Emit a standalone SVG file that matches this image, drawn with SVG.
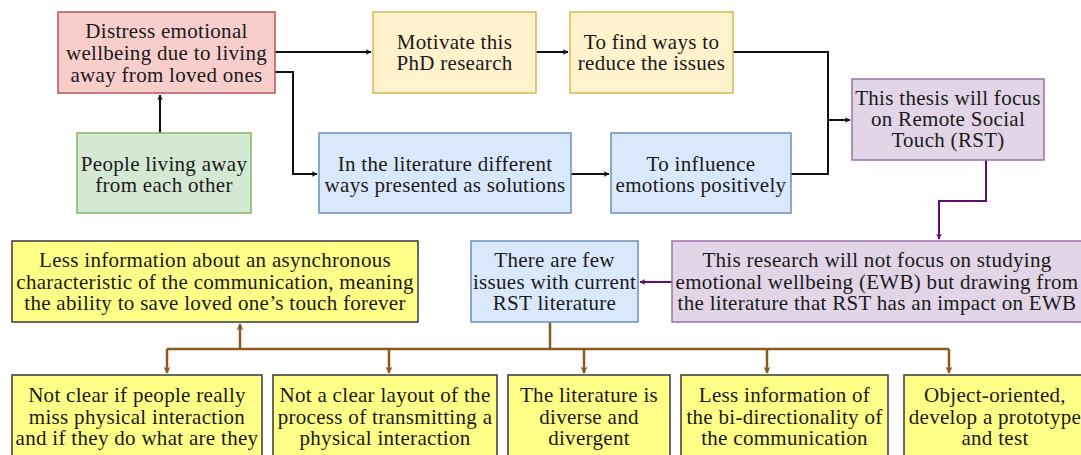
<svg xmlns="http://www.w3.org/2000/svg" width="1081" height="455" viewBox="0 0 1081 455" font-family="'Liberation Serif', 'Times New Roman', serif">
  <style>
    text { font-family: 'Liberation Serif', 'Times New Roman', Times, serif; font-size: 21px; letter-spacing: 0.3px; fill: #1a1a1a; text-anchor: middle; }
    .box { stroke-width: 1.5; }
    .red { fill: #f8cecc; stroke: #b85450; }
    .yel { fill: #fff2cc; stroke: #d6b656; }
    .grn { fill: #d5e8d4; stroke: #82b366; }
    .blu { fill: #dae8fc; stroke: #6c8ebf; }
    .pur { fill: #e1d5e7; stroke: #9673a6; }
    .note { fill: #ffff88; stroke: #36393d; }
    .c-blk { fill: none; stroke: #111; stroke-width: 2; }
    .c-pur { fill: none; stroke: #5e0f6e; stroke-width: 2; }
    .c-brn { fill: none; stroke: #8b5a1e; stroke-width: 2.5; }
  </style>
  <defs>
    <marker id="ah-blk" viewBox="0 0 10 10" refX="9" refY="5" markerWidth="6" markerHeight="6" markerUnits="userSpaceOnUse" orient="auto">
      <path d="M0,0 L10,5 L0,10 L3,5 Z" fill="#111"/>
    </marker>
    <marker id="ah-pur" viewBox="0 0 10 10" refX="9" refY="5" markerWidth="6" markerHeight="6" markerUnits="userSpaceOnUse" orient="auto">
      <path d="M0,0 L10,5 L0,10 L3,5 Z" fill="#5e0f6e"/>
    </marker>
    <marker id="ah-brn" viewBox="0 0 10 10" refX="9" refY="5" markerWidth="7" markerHeight="7" markerUnits="userSpaceOnUse" orient="auto">
      <path d="M0,0 L10,5 L0,10 L3,5 Z" fill="#8b5a1e"/>
    </marker>
  </defs>

  <!-- connectors -->
  <g id="connectors">
    <path class="c-blk" d="M160,133 V95" marker-end="url(#ah-blk)"/>
    <path class="c-blk" d="M275,52 H371" marker-end="url(#ah-blk)"/>
    <path class="c-blk" d="M536,52 H568" marker-end="url(#ah-blk)"/>
    <path class="c-blk" d="M275,72 H293 V174 H317" marker-end="url(#ah-blk)"/>
    <path class="c-blk" d="M571,174 H609" marker-end="url(#ah-blk)"/>
    <path class="c-blk" d="M733,52 H828 V174 H791"/>
    <path class="c-blk" d="M828,120 H850" marker-end="url(#ah-blk)"/>
    <path class="c-pur" d="M986,160 V201 H939 V239" marker-end="url(#ah-pur)"/>
    <path class="c-pur" d="M672,282 H640" marker-end="url(#ah-pur)"/>
    <path class="c-brn" d="M550,322 V349"/>
    <path class="c-brn" d="M167,349 H949"/>
    <path class="c-brn" d="M240,349 V324" marker-end="url(#ah-brn)"/>
    <path class="c-brn" d="M167,349 V373" marker-end="url(#ah-brn)"/>
    <path class="c-brn" d="M389,349 V373" marker-end="url(#ah-brn)"/>
    <path class="c-brn" d="M584,349 V373" marker-end="url(#ah-brn)"/>
    <path class="c-brn" d="M767,349 V373" marker-end="url(#ah-brn)"/>
    <path class="c-brn" d="M949,349 V373" marker-end="url(#ah-brn)"/>
  </g>

  <g id="distress">
    <rect class="box red" x="58" y="12" width="217" height="81"/>
    <text x="166.5" y="37.5">Distress emotional</text>
    <text x="166.5" y="59.5">wellbeing due to living</text>
    <text x="166.5" y="81.5">away from loved ones</text>
  </g>

  <g id="people">
    <rect class="box grn" x="77" y="133" width="174" height="80"/>
    <text x="164" y="170.5">People living away</text>
    <text x="164" y="191.5">from each other</text>
  </g>

  <g id="motivate">
    <rect class="box yel" x="373" y="12" width="163" height="81"/>
    <text x="454.5" y="48.5">Motivate this</text>
    <text x="454.5" y="69.5">PhD research</text>
  </g>

  <g id="find-ways">
    <rect class="box yel" x="570" y="12" width="163" height="81"/>
    <text x="651.5" y="48.5">To find ways to</text>
    <text x="651.5" y="69.5">reduce the issues</text>
  </g>

  <g id="literature">
    <rect class="box blu" x="319" y="133" width="252" height="80"/>
    <text x="445" y="170.5">In the literature different</text>
    <text x="445" y="191.5">ways presented as solutions</text>
  </g>

  <g id="influence">
    <rect class="box blu" x="611" y="133" width="180" height="80"/>
    <text x="701" y="170.5">To influence</text>
    <text x="701" y="191.5">emotions positively</text>
  </g>

  <g id="thesis">
    <rect class="box pur" x="852" y="79" width="192" height="81"/>
    <text x="948" y="105">This thesis will focus</text>
    <text x="948" y="126">on Remote Social</text>
    <text x="948" y="147">Touch (RST)</text>
  </g>

  <g id="ewb">
    <rect class="box pur" x="672" y="241" width="412" height="81"/>
    <text x="877" y="267">This research will not focus on studying</text>
    <text x="877" y="288.5">emotional wellbeing (EWB) but drawing from</text>
    <text x="877" y="310">the literature that RST has an impact on EWB</text>
  </g>

  <g id="rst-issues">
    <rect class="box blu" x="471" y="241" width="167" height="81"/>
    <text x="554.5" y="267">There are few</text>
    <text x="554.5" y="288.5">issues with current</text>
    <text x="554.5" y="310">RST literature</text>
  </g>

  <g id="asynchronous">
    <rect class="box note" x="12" y="241" width="406" height="81"/>
    <text x="215" y="267">Less information about an asynchronous</text>
    <text x="215" y="288.5">characteristic of the communication, meaning</text>
    <text x="215" y="310">the ability to save loved one’s touch forever</text>
  </g>

  <g id="physical-miss">
    <rect class="box note" x="12" y="375" width="250" height="82"/>
    <text x="137" y="402">Not clear if people really</text>
    <text x="137" y="424">miss physical interaction</text>
    <text x="137" y="445">and if they do what are they</text>
  </g>

  <g id="layout">
    <rect class="box note" x="273" y="375" width="224" height="82"/>
    <text x="385" y="402">Not a clear layout of the</text>
    <text x="385" y="424">process of transmitting a</text>
    <text x="385" y="445">physical interaction</text>
  </g>

  <g id="diverse">
    <rect class="box note" x="508" y="375" width="162" height="82"/>
    <text x="589" y="402">The literature is</text>
    <text x="589" y="424">diverse and</text>
    <text x="589" y="445">divergent</text>
  </g>

  <g id="bidirectional">
    <rect class="box note" x="681" y="375" width="207" height="82"/>
    <text x="784.5" y="402">Less information of</text>
    <text x="784.5" y="424">the bi-directionality of</text>
    <text x="784.5" y="445">the communication</text>
  </g>

  <g id="object-oriented">
    <rect class="box note" x="904" y="375" width="180" height="82"/>
    <text x="995" y="402">Object-oriented,</text>
    <text x="995" y="424">develop a prototype</text>
    <text x="995" y="445">and test</text>
  </g>
</svg>
